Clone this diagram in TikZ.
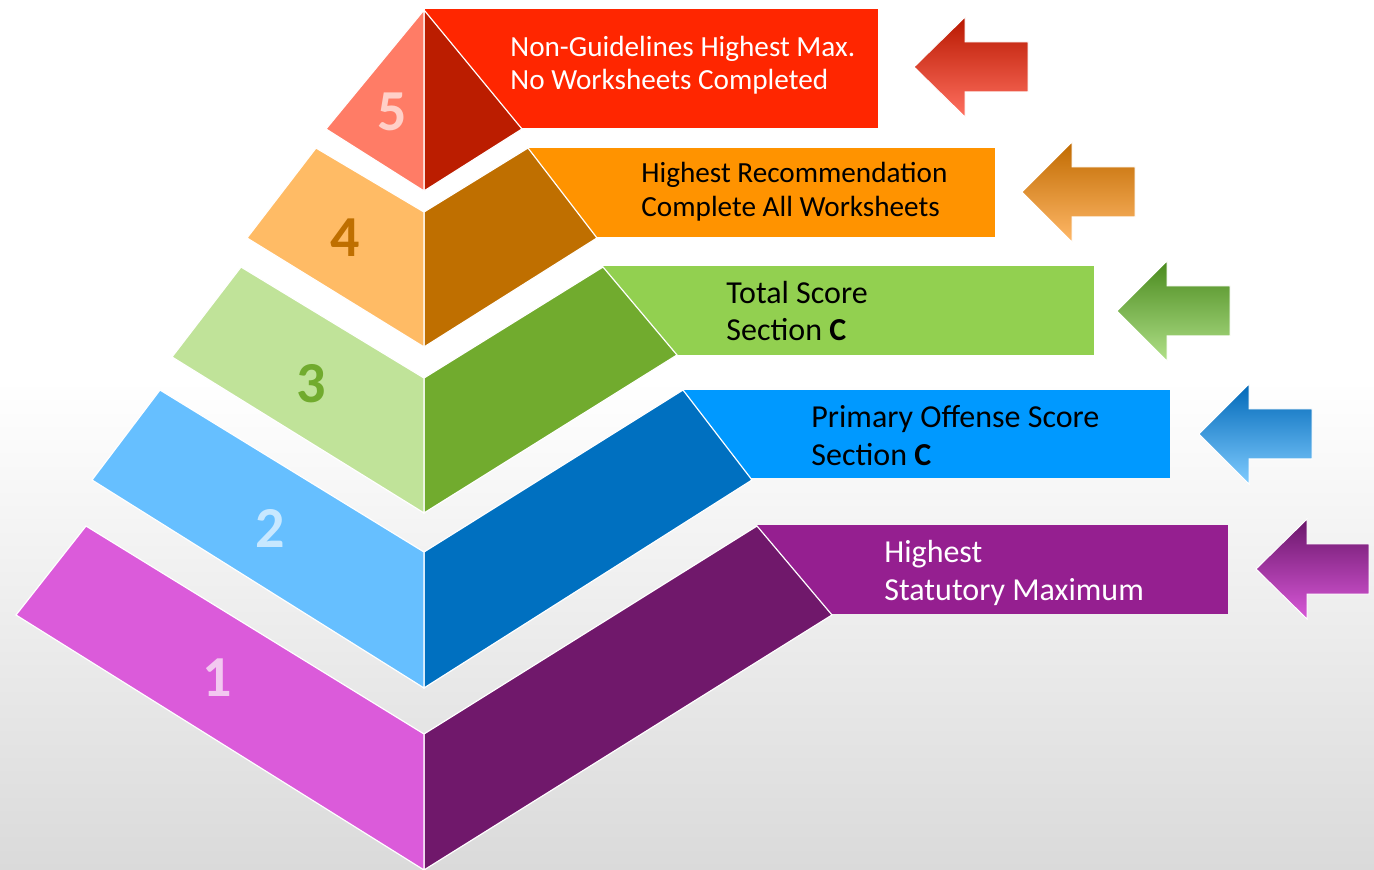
\documentclass[tikz,border=0pt]{standalone}
\usepackage{fontspec}
\setmainfont{Carlito}
\definecolor{bgbot}{HTML}{DADADA}
\definecolor{r5}{HTML}{FF2600}\definecolor{l5}{HTML}{FF7C66}\definecolor{d5}{HTML}{BB1D00}\definecolor{n5}{HTML}{FFD0C8}
\definecolor{r4}{HTML}{FF9300}\definecolor{l4}{HTML}{FFBB65}\definecolor{d4}{HTML}{BF6F00}
\definecolor{r3}{HTML}{92D050}\definecolor{l3}{HTML}{C0E399}\definecolor{d3}{HTML}{71AB2E}
\definecolor{r2}{HTML}{0099FF}\definecolor{l2}{HTML}{66BFFF}\definecolor{d2}{HTML}{0070C0}\definecolor{n2}{HTML}{C8E8FF}
\definecolor{r1}{HTML}{951F90}\definecolor{l1}{HTML}{DB5BDA}\definecolor{d1}{HTML}{70186B}\definecolor{n1}{HTML}{F2C8F0}
\definecolor{a5t}{HTML}{B81800}\definecolor{a5m}{HTML}{FF2A00}\definecolor{a5b}{HTML}{FF7060}
\definecolor{a4t}{HTML}{C06A00}\definecolor{a4m}{HTML}{FF9100}\definecolor{a4b}{HTML}{FFB868}
\definecolor{a3t}{HTML}{4A8A1E}\definecolor{a3m}{HTML}{72B232}\definecolor{a3b}{HTML}{B0E088}
\definecolor{a2t}{HTML}{0068B8}\definecolor{a2m}{HTML}{0099FF}\definecolor{a2b}{HTML}{80CCFF}
\definecolor{a1t}{HTML}{6A166A}\definecolor{a1m}{HTML}{9A209A}\definecolor{a1b}{HTML}{D858D8}
\begin{document}
\begin{tikzpicture}[x=0.5pt,y=-0.5pt,
  face/.style={draw=white,line width=0.6pt,line join=miter},
  lbl/.style={anchor=base west,inner sep=0pt,font=\fontsize{14.6}{17}\selectfont},
  lblb/.style={anchor=base west,inner sep=0pt,font=\fontsize{16}{19}\selectfont},
  num/.style={inner sep=0pt,font=\fontsize{29}{29}\selectfont\bfseries},
  arr/.style={draw=white,line width=0.5pt}]
\useasboundingbox (0,0) rectangle (1374,870);
\fill[white] (0,0) rectangle (1374,381);
\shade[top color=white,bottom color=bgbot] (0,380) rectangle (1374,870);

% layer 1
\fill[r1] (757,525) rectangle (1228,614);
\path[face,fill=d1] (424,734) -- (757,526) -- (832,615) -- (424,870) -- cycle;
\path[face,fill=l1] (86,526) -- (424,734) -- (424,870) -- (16,615) -- cycle;
% layer 2
\fill[r2] (683,390) rectangle (1170,478);
\path[face,fill=d2] (424,552) -- (683,390) -- (752,480) -- (424,688) -- cycle;
\path[face,fill=l2] (160,390) -- (424,552) -- (424,688) -- (92,480) -- cycle;
% layer 3
\fill[r3] (603,266) rectangle (1094,355);
\path[face,fill=d3] (424,378) -- (603,267) -- (677,355) -- (424,513) -- cycle;
\path[face,fill=l3] (241,267) -- (424,378) -- (424,513) -- (172,357) -- cycle;
% layer 4
\fill[r4] (528,148) rectangle (995,237);
\path[face,fill=d4] (424,212) -- (528,148) -- (597,238) -- (424,347) -- cycle;
\path[face,fill=l4] (316,148) -- (424,212) -- (424,347) -- (247,238) -- cycle;
% layer 5
\fill[r5] (425,9) rectangle (878,128);
\path[face,fill=d5] (424,10) -- (522,129) -- (424,191) -- cycle;
\path[face,fill=l5] (424,10) -- (424,191) -- (326,129) -- cycle;

% numbers
\node[num,text=n5] (n5) at (392,112) {5};
\node[num,text=d4] (n4) at (345,238) {4};
\node[num,text=d3] (n3) at (311,384) {3};
\node[num,text=n2] (n2) at (270,528) {2};
\node[num,text=n1] (n1) at (217,678) {1};

% texts
\node[lbl,text=white] (t5a) at (510,57) {Non-Guidelines Highest Max.};
\node[lbl,text=white] (t5b) at (510,90) {No Worksheets Completed};
\node[lbl] (t4a) at (641,183) {Highest Recommendation};
\node[lbl] (t4b) at (641,217) {Complete All Worksheets};
\node[lblb] (t3a) at (726,304) {Total Score};
\node[lblb] (t3b) at (726,341) {Section \textbf{C}};
\node[lblb] (t2a) at (811,428) {Primary Offense Score};
\node[lblb] (t2b) at (811,466) {Section \textbf{C}};
\node[lblb,text=white] (t1a) at (884,562) {Highest};
\node[lblb,text=white] (t1b) at (884,600) {Statutory Maximum};

% arrows
\shade[arr,top color=a5t,middle color=a5m,bottom color=a5b]
  (914,67) -- (965,17) -- (965,42) -- (1028,42) -- (1028,92) -- (965,92) -- (965,117) -- cycle;
\shade[arr,top color=a4t,middle color=a4m,bottom color=a4b]
  (1022,192) -- (1072,142) -- (1072,167) -- (1135,167) -- (1135,217) -- (1072,217) -- (1072,242) -- cycle;
\shade[arr,top color=a3t,middle color=a3m,bottom color=a3b]
  (1117,311) -- (1167,261) -- (1167,286) -- (1230,286) -- (1230,336) -- (1167,336) -- (1167,361) -- cycle;
\shade[arr,top color=a2t,middle color=a2m,bottom color=a2b]
  (1199,434) -- (1249,384) -- (1249,409) -- (1312,409) -- (1312,459) -- (1249,459) -- (1249,484) -- cycle;
\shade[arr,top color=a1t,middle color=a1m,bottom color=a1b]
  (1256,569) -- (1307,519) -- (1307,544) -- (1369,544) -- (1369,594) -- (1307,594) -- (1307,619) -- cycle;
\end{tikzpicture}
\end{document}
